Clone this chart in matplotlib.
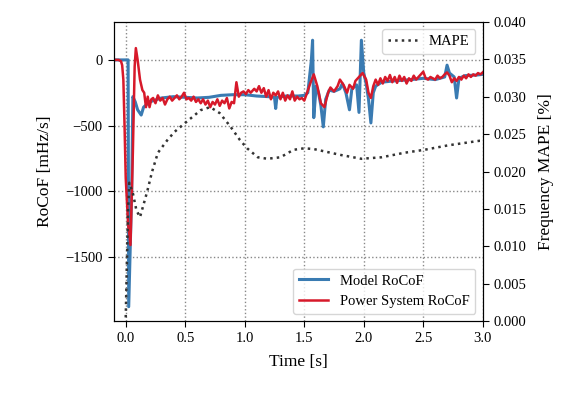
import numpy as np
import matplotlib.pyplot as plt

plt.rcParams['font.family'] = ['Liberation Serif', 'DejaVu Serif']
plt.rcParams['mathtext.fontset'] = 'stix'

# power system RoCoF [mHz/s]
t_sys = [-0.10, -0.06, -0.04, -0.03, -0.02, -0.01, 0.00, 0.02, 0.04, 0.06, 0.075, 0.085,
         0.10, 0.12, 0.14, 0.155, 0.17, 0.185, 0.20, 0.215, 0.23, 0.25, 0.27, 0.29, 0.31,
         0.33, 0.35, 0.37, 0.39, 0.41, 0.43, 0.45, 0.47, 0.49, 0.51, 0.53, 0.55, 0.57,
         0.59, 0.61, 0.63, 0.65, 0.67, 0.69, 0.71, 0.73, 0.75, 0.77, 0.79, 0.81, 0.83,
         0.85, 0.87, 0.89, 0.91, 0.93, 0.95, 0.97, 0.99, 1.01, 1.03, 1.05, 1.08, 1.10,
         1.12, 1.14, 1.16, 1.18, 1.20, 1.22, 1.24, 1.26, 1.28, 1.30, 1.32, 1.34, 1.36,
         1.38, 1.40, 1.42, 1.44, 1.46, 1.48, 1.50, 1.52, 1.55, 1.58, 1.61, 1.64, 1.67,
         1.70, 1.72, 1.75, 1.78, 1.80, 1.83, 1.86, 1.88, 1.91, 1.93, 1.96, 1.99, 2.02,
         2.04, 2.06, 2.08, 2.10, 2.12, 2.14, 2.16, 2.18, 2.20, 2.22, 2.24, 2.26, 2.28,
         2.30, 2.32, 2.34, 2.36, 2.38, 2.40, 2.42, 2.44, 2.46, 2.48, 2.50, 2.52, 2.54,
         2.56, 2.58, 2.60, 2.62, 2.64, 2.66, 2.68, 2.70, 2.72, 2.74, 2.76, 2.78, 2.80,
         2.82, 2.84, 2.86, 2.88, 2.90, 2.92, 2.94, 2.96, 2.98, 3.00]
rocof_sys = [0, 0, -10, -40, -150, -500, -900, -1250, -1410, -700, -50, 90,
             0, -150, -230, -250, -360, -280, -360, -300, -290, -330, -270, -310, -290,
             -340, -300, -280, -310, -290, -270, -300, -280, -250, -300, -290, -310, -280,
             -320, -300, -330, -300, -340, -310, -360, -320, -340, -300, -350, -310, -330,
             -290, -370, -320, -330, -170, -280, -250, -240, -260, -230, -250, -220, -240,
             -200, -250, -215, -280, -230, -300, -250, -270, -240, -300, -250, -310, -270,
             -300, -240, -310, -280, -300, -290, -310, -260, -180, -110, -200, -330, -360,
             -250, -210, -240, -200, -150, -190, -250, -190, -220, -160, -130, -100, -150,
             -250, -290, -200, -150, -190, -140, -180, -130, -160, -115, -170, -130, -175,
             -120, -160, -130, -180, -140, -160, -120, -150, -130, -110, -90, -140, -150,
             -130, -140, -150, -120, -140, -130, -110, -95, -120, -170, -140, -160, -130,
             -150, -120, -140, -110, -130, -110, -120, -100, -110, -95]

# model RoCoF [mHz/s]
t_mod = [-0.10, 0.02, 0.025, 0.05, 0.06, 0.08, 0.10, 0.13, 0.15, 0.20, 0.30, 0.40, 0.50,
         0.60, 0.70, 0.80, 0.90, 1.00, 1.10, 1.20, 1.25, 1.26, 1.27, 1.35, 1.45, 1.50,
         1.53, 1.56, 1.57, 1.575, 1.58, 1.60, 1.62, 1.64, 1.66, 1.68, 1.71, 1.75, 1.80,
         1.82, 1.85, 1.88, 1.90, 1.94, 1.96, 1.98, 2.00, 2.02, 2.04, 2.06, 2.08, 2.10,
         2.15, 2.25, 2.40, 2.50, 2.60, 2.68, 2.70, 2.72, 2.76, 2.78, 2.80, 2.85, 2.95, 3.00]
rocof_mod = [0, 0, -1880, -1000, -280, -320, -380, -420, -360, -320, -290, -280, -285,
             -290, -285, -270, -265, -265, -275, -280, -285, -370, -285, -275, -275, -270,
             -250, 0, 150, -150, -440, -200, -250, -350, -510, -300, -230, -240, -220,
             -180, -250, -380, -220, -190, -400, 150, -100, -180, -300, -480, -250, -200,
             -170, -160, -150, -140, -150, -130, -40, -100, -130, -290, -140, -120, -115, -110]

# frequency MAPE [%]
t_mape = [0.0, 0.01, 0.02, 0.03, 0.06, 0.09, 0.12, 0.18, 0.22, 0.27, 0.35, 0.41, 0.50,
          0.63, 0.71, 0.79, 0.88, 0.96, 1.02, 1.11, 1.19, 1.30, 1.41, 1.50, 1.58, 1.81,
          1.98, 2.15, 2.34, 2.51, 2.71, 2.97, 3.00]
mape = [0.0005, 0.008, 0.015, 0.0185, 0.0171, 0.0148, 0.0139, 0.0173, 0.0199, 0.0225,
        0.0242, 0.0253, 0.0265, 0.0282, 0.0286, 0.0278, 0.0260, 0.0242, 0.0231, 0.0219,
        0.0217, 0.0219, 0.0229, 0.0231, 0.0230, 0.0222, 0.0217, 0.0219, 0.0225, 0.0229,
        0.0235, 0.0241, 0.0241]

fig = plt.figure(figsize=(5.72, 3.97), dpi=100)
ax = fig.add_axes([0.199, 0.191, 0.645, 0.754])
ax2 = ax.twinx()

l1, = ax.plot(t_mod, rocof_mod, color='#3a7bb2', lw=2.2, label='Model RoCoF')
l2, = ax.plot(t_sys, rocof_sys, color='#d7192a', lw=1.8, label='Power System RoCoF')
l3, = ax2.plot(t_mape, mape, color='#333333', lw=1.8, ls=':', label='MAPE')

ax.set_xlim(-0.1, 3.0)
ax.set_ylim(-1990, 290)
ax.set_yticks([0, -500, -1000, -1500])
ax.set_xticks([0.0, 0.5, 1.0, 1.5, 2.0, 2.5, 3.0])
ax2.set_ylim(0, 0.04)
ax2.set_yticks(np.arange(0, 0.0401, 0.005))
ax2.set_yticklabels(['%.3f' % v for v in np.arange(0, 0.0401, 0.005)])
ax.grid(True, ls=':', color='#888888', lw=1.0)

ax.set_xlabel('Time [s]', fontsize=12.5, labelpad=6)
ax.set_ylabel('RoCoF [mHz/s]', fontsize=12.5, labelpad=9)
ax2.set_ylabel('Frequency MAPE [%]', fontsize=12.5, labelpad=8)
ax.tick_params(labelsize=10.5, length=4.5)
ax2.tick_params(labelsize=10.5, length=4.5)

leg1 = ax2.legend(handles=[l3], loc='upper right', fontsize=10.5)
ax2.add_artist(leg1)
ax2.legend(handles=[l1, l2], loc='lower right', fontsize=10.5)

fig.savefig('out.png', dpi=100)
